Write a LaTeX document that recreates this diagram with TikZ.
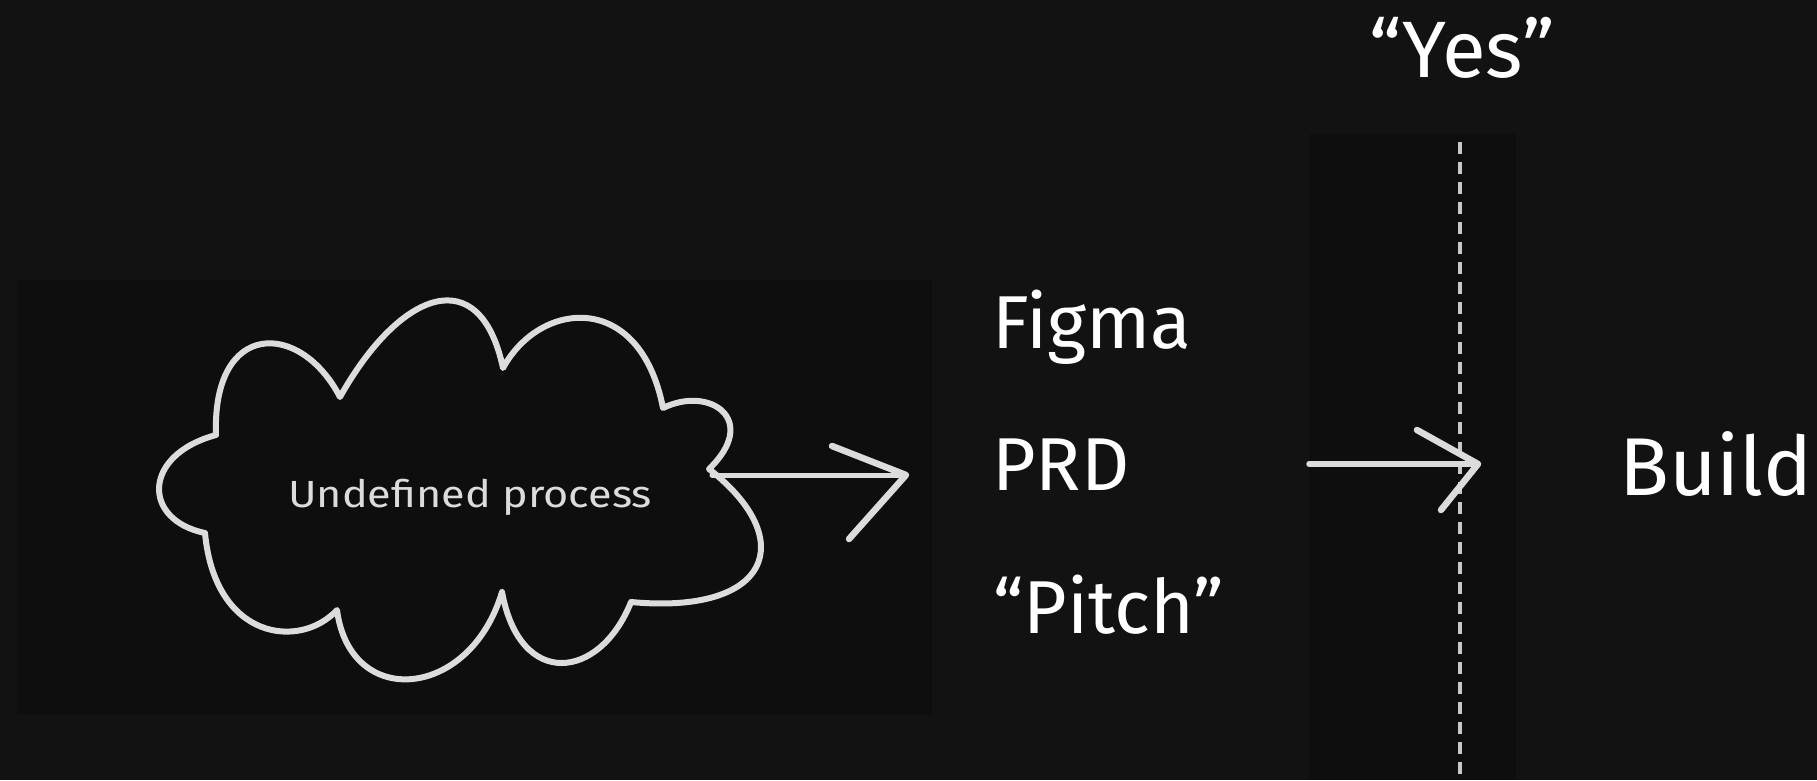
\documentclass[tikz,border=0pt]{standalone}
\usepackage{fontspec}
\setmainfont{Fira Sans}
\definecolor{bg}{HTML}{121212}
\definecolor{panel}{HTML}{0E0E0E}
\definecolor{strokec}{HTML}{DCDCDC}
\definecolor{dashc}{HTML}{C8C8C8}
\begin{document}
\begin{tikzpicture}[x=1pt,y=-1pt,
  sketch/.style={draw=strokec, line width=6pt, line cap=round, line join=round},
  lbl/.style={text=white, inner sep=0pt, anchor=base west, font=\fontsize{75}{80}\selectfont}]
\fill[bg] (0,0) rectangle (1817,780);
\useasboundingbox (0,0) rectangle (1817,780);
\fill[panel] (17,280) rectangle (932,715);
\fill[panel] (1309,134) rectangle (1516,780);

% cloud
\coordinate (c1) at (216,435);
\coordinate (c2) at (340,397);
\coordinate (c3) at (503,368);
\coordinate (c4) at (663,408);
\coordinate (c5) at (709,469);
\coordinate (c6) at (631,602);
\coordinate (c7) at (502,592);
\coordinate (c8) at (337,610);
\coordinate (c9) at (205,533);
\draw[sketch] (c1) .. controls (212,320) and (300,320) .. (c2)
  .. controls (400,290) and (480,260) .. (c3)
  .. controls (540,300) and (640,290) .. (c4)
  .. controls (710,385) and (760,420) .. (c5)
  .. controls (800,540) and (770,615) .. (c6)
  .. controls (600,680) and (520,690) .. (c7)
  .. controls (470,700) and (350,710) .. (c8)
  .. controls (300,650) and (215,640) .. (c9)
  .. controls (142,520) and (142,455) .. cycle;
\node[text=strokec, inner sep=0pt, anchor=base, font=\fontsize{36}{40}\selectfont] (proc) at (470,507) {\scalebox{1.2}[1.05]{Undefined process}};

% arrow 1
\coordinate (cloudR) at (712,475);
\coordinate (a1tip) at (906,475);
\coordinate (a1u) at (832,446);
\coordinate (a1l) at (849,539);
\draw[sketch, line width=5pt] (cloudR) -- (a1tip);
\draw[sketch, line width=6.5pt] (a1u) -- (a1tip) -- (a1l);

% texts
\node[lbl] (figma) at (992,348) {Figma};
\node[lbl] (prd) at (992,490) {PRD};
\node[lbl] (pitch) at (993,633) {“Pitch”};
\node[lbl, anchor=base, font=\fontsize{80}{86}\selectfont] (yes) at (1462,77) {“Yes”};
\node[lbl, font=\fontsize{82}{88}\selectfont] (build) at (1619,495) {Build};

% dashed line
\coordinate (dtop) at (1460,142);
\coordinate (dbot) at (1460,780);
\draw[draw=dashc, line width=4pt, dash pattern=on 12pt off 8pt] (dtop) -- (dbot);

% arrow 2
\coordinate (a2s) at (1309,464);
\coordinate (a2tip) at (1478,464);
\coordinate (a2u) at (1417,430);
\coordinate (a2l) at (1441,510);
\draw[sketch, line width=5.5pt] (a2s) -- (a2tip);
\draw[sketch, line width=6.5pt] (a2u) -- (a2tip) -- (a2l);
\end{tikzpicture}
\end{document}
